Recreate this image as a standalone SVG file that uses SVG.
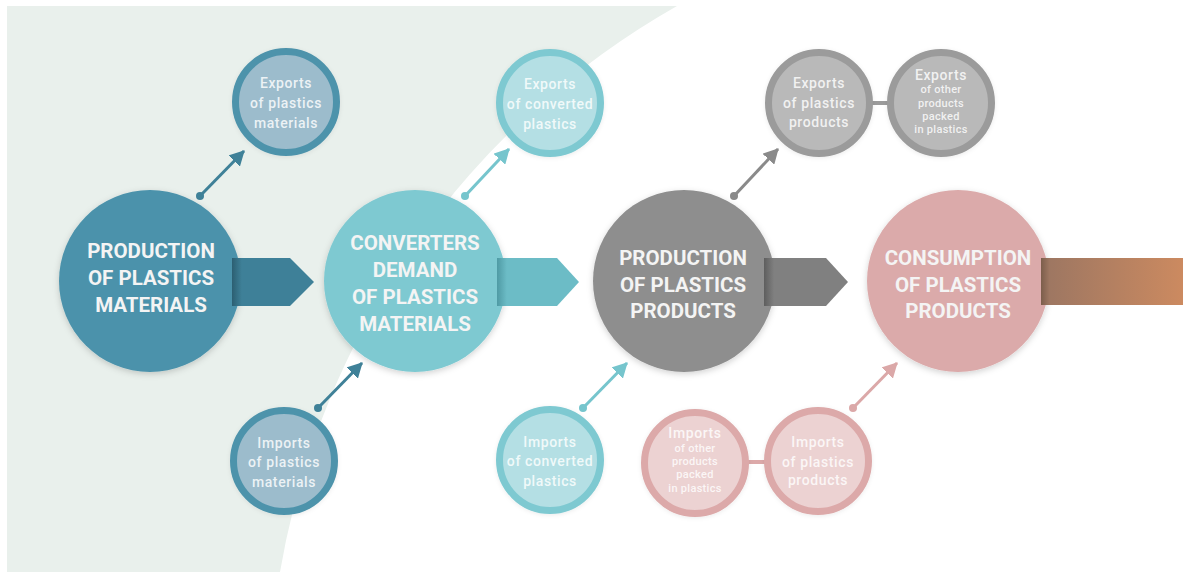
<svg xmlns="http://www.w3.org/2000/svg" width="1183" height="572" viewBox="0 0 1183 572">
<defs>
<style>
.big{font-family:Roboto,"Liberation Sans",sans-serif;font-weight:700;font-size:20.5px;fill:#f4f4f4;text-anchor:middle}
.sm{font-family:Roboto,"Liberation Sans",sans-serif;font-weight:500;font-size:14px;letter-spacing:0.6px;text-anchor:middle;fill:#ffffff;fill-opacity:0.82}
.xs{font-size:11px;letter-spacing:0.3px}
.ring{stroke-width:7}
.con{stroke-width:3;fill:none}
</style>
<filter id="sh" x="-20%" y="-20%" width="140%" height="140%">
<feDropShadow dx="0" dy="2" stdDeviation="3" flood-color="#000" flood-opacity="0.18"/>
</filter>
<filter id="shs" x="-20%" y="-20%" width="140%" height="140%">
<feDropShadow dx="0" dy="1" stdDeviation="2" flood-color="#000" flood-opacity="0.08"/>
</filter>
<linearGradient id="g1" x1="0" x2="1" y1="0" y2="0">
<stop offset="0" stop-color="#2c5f72"/><stop offset="0.12" stop-color="#3e8098"/><stop offset="1" stop-color="#3e8098"/>
</linearGradient>
<linearGradient id="g2" x1="0" x2="1" y1="0" y2="0">
<stop offset="0" stop-color="#4f9aa4"/><stop offset="0.12" stop-color="#6cbcc6"/><stop offset="1" stop-color="#6cbcc6"/>
</linearGradient>
<linearGradient id="g3" x1="0" x2="1" y1="0" y2="0">
<stop offset="0" stop-color="#5e5e5e"/><stop offset="0.12" stop-color="#808080"/><stop offset="1" stop-color="#808080"/>
</linearGradient>
<linearGradient id="g4" x1="0" x2="1" y1="0" y2="0">
<stop offset="0" stop-color="#7c5e4c"/><stop offset="0.06" stop-color="#9e7762"/><stop offset="1" stop-color="#cc8a60"/>
</linearGradient>
<marker id="aD" markerUnits="userSpaceOnUse" markerWidth="16" markerHeight="16" refX="14" refY="8" orient="auto"><path d="M0,0 L15,8 L0,16 Z" fill="#3f8198"/></marker>
<marker id="dD" markerUnits="userSpaceOnUse" markerWidth="10" markerHeight="10" refX="5" refY="5"><circle cx="5" cy="5" r="4" fill="#3f8198"/></marker>
<marker id="aL" markerUnits="userSpaceOnUse" markerWidth="16" markerHeight="16" refX="14" refY="8" orient="auto"><path d="M0,0 L15,8 L0,16 Z" fill="#76c5cd"/></marker>
<marker id="dL" markerUnits="userSpaceOnUse" markerWidth="10" markerHeight="10" refX="5" refY="5"><circle cx="5" cy="5" r="4" fill="#76c5cd"/></marker>
<marker id="aG" markerUnits="userSpaceOnUse" markerWidth="16" markerHeight="16" refX="14" refY="8" orient="auto"><path d="M0,0 L15,8 L0,16 Z" fill="#8a8a8a"/></marker>
<marker id="dG" markerUnits="userSpaceOnUse" markerWidth="10" markerHeight="10" refX="5" refY="5"><circle cx="5" cy="5" r="4" fill="#8a8a8a"/></marker>
<marker id="aP" markerUnits="userSpaceOnUse" markerWidth="16" markerHeight="16" refX="14" refY="8" orient="auto"><path d="M0,0 L15,8 L0,16 Z" fill="#dba8a8"/></marker>
<marker id="dP" markerUnits="userSpaceOnUse" markerWidth="10" markerHeight="10" refX="5" refY="5"><circle cx="5" cy="5" r="4" fill="#dba8a8"/></marker>
</defs>
<rect x="0" y="0" width="1183" height="572" fill="#ffffff"/>
<path d="M7,6 L677,6 A806,806 0 0,0 280,572 L7,572 Z" fill="#e9f0ec"/>

<g id="connectors">
<line class="con" x1="200" y1="196" x2="244" y2="151" stroke="#3f8198" marker-start="url(#dD)" marker-end="url(#aD)"/>
<line class="con" x1="318" y1="408" x2="362" y2="363" stroke="#3f8198" marker-start="url(#dD)" marker-end="url(#aD)"/>
<line class="con" x1="465" y1="196" x2="509" y2="149" stroke="#76c5cd" marker-start="url(#dL)" marker-end="url(#aL)"/>
<line class="con" x1="583" y1="408" x2="627" y2="363" stroke="#76c5cd" marker-start="url(#dL)" marker-end="url(#aL)"/>
<line class="con" x1="734" y1="196" x2="778" y2="149" stroke="#8a8a8a" marker-start="url(#dG)" marker-end="url(#aG)"/>
<line class="con" x1="853" y1="408" x2="897" y2="363" stroke="#dba8a8" marker-start="url(#dP)" marker-end="url(#aP)"/>
<line x1="872" y1="103" x2="888" y2="103" stroke="#9b9b9b" stroke-width="4"/>
<line x1="746" y1="462" x2="767" y2="462" stroke="#dca9a9" stroke-width="4"/>
</g>

<g id="production-materials">
<circle cx="150" cy="281" r="91" fill="#4b92ab" filter="url(#sh)"/>
<text class="big" x="151" y="258">PRODUCTION</text>
<text class="big" x="151" y="285">OF PLASTICS</text>
<text class="big" x="151" y="312">MATERIALS</text>
</g>

<g id="converters-demand">
<circle cx="415" cy="281" r="91" fill="#7ec9d1" filter="url(#sh)"/>
<text class="big" x="415" y="250">CONVERTERS</text>
<text class="big" x="415" y="277">DEMAND</text>
<text class="big" x="415" y="304">OF PLASTICS</text>
<text class="big" x="415" y="331">MATERIALS</text>
</g>

<g id="production-products">
<circle cx="684" cy="281" r="91" fill="#8e8e8e" filter="url(#sh)"/>
<text class="big" x="683" y="265">PRODUCTION</text>
<text class="big" x="683" y="292">OF PLASTICS</text>
<text class="big" x="683" y="318">PRODUCTS</text>
</g>

<g id="consumption">
<circle cx="958" cy="281" r="91" fill="#dbaaaa" filter="url(#sh)"/>
<text class="big" x="958" y="265">CONSUMPTION</text>
<text class="big" x="958" y="292">OF PLASTICS</text>
<text class="big" x="958" y="318">PRODUCTS</text>
</g>

<g id="flow-arrows">
<polygon points="232,258 290,258 314,282 290,306 232,306" fill="url(#g1)"/>
<polygon points="497,258 557,258 579,282 557,306 497,306" fill="url(#g2)"/>
<polygon points="764,258 826,258 848,282 826,306 764,306" fill="url(#g3)"/>
<rect x="1041" y="258" width="142" height="47" fill="url(#g4)"/>
</g>

<g id="exports-materials">
<circle class="ring" cx="286" cy="102" r="50.5" fill="#9cbccc" stroke="#4e93ab" filter="url(#shs)"/>
<text class="sm" x="286" y="88">Exports</text>
<text class="sm" x="286" y="108">of plastics</text>
<text class="sm" x="286" y="128">materials</text>
</g>

<g id="imports-materials">
<circle class="ring" cx="284" cy="461" r="50.5" fill="#9cbccc" stroke="#4e93ab" filter="url(#shs)"/>
<text class="sm" x="284" y="448">Imports</text>
<text class="sm" x="284" y="467">of plastics</text>
<text class="sm" x="284" y="487">materials</text>
</g>

<g id="exports-converted">
<circle class="ring" cx="550" cy="103" r="50.5" fill="#b4dfe4" stroke="#7ec9d1" filter="url(#shs)"/>
<text class="sm" x="550" y="89">Exports</text>
<text class="sm" x="550" y="109">of converted</text>
<text class="sm" x="550" y="129">plastics</text>
</g>

<g id="imports-converted">
<circle class="ring" cx="550" cy="460" r="50.5" fill="#b4dfe4" stroke="#7ec9d1" filter="url(#shs)"/>
<text class="sm" x="550" y="447">Imports</text>
<text class="sm" x="550" y="466">of converted</text>
<text class="sm" x="550" y="486">plastics</text>
</g>

<g id="exports-products">
<circle class="ring" cx="819" cy="103" r="50.5" fill="#b9b9b9" stroke="#9b9b9b" filter="url(#shs)"/>
<text class="sm" x="819" y="88">Exports</text>
<text class="sm" x="819" y="108">of plastics</text>
<text class="sm" x="819" y="127">products</text>
</g>

<g id="exports-other">
<circle class="ring" cx="941" cy="103" r="50.5" fill="#b9b9b9" stroke="#9b9b9b" filter="url(#shs)"/>
<text class="sm" x="941" y="80">Exports</text>
<text class="sm xs" x="941" y="93">of other</text>
<text class="sm xs" x="941" y="107">products</text>
<text class="sm xs" x="941" y="120">packed</text>
<text class="sm xs" x="941" y="133">in plastics</text>
</g>

<g id="imports-other">
<circle class="ring" cx="695" cy="463" r="50.5" fill="#ecd2d2" stroke="#dca9a9" filter="url(#shs)"/>
<text class="sm" x="695" y="438">Imports</text>
<text class="sm xs" x="695" y="452">of other</text>
<text class="sm xs" x="695" y="465">products</text>
<text class="sm xs" x="695" y="478">packed</text>
<text class="sm xs" x="695" y="492">in plastics</text>
</g>

<g id="imports-products">
<circle class="ring" cx="818" cy="461" r="50.5" fill="#ecd2d2" stroke="#dca9a9" filter="url(#shs)"/>
<text class="sm" x="818" y="447">Imports</text>
<text class="sm" x="818" y="467">of plastics</text>
<text class="sm" x="818" y="485">products</text>
</g>
</svg>
